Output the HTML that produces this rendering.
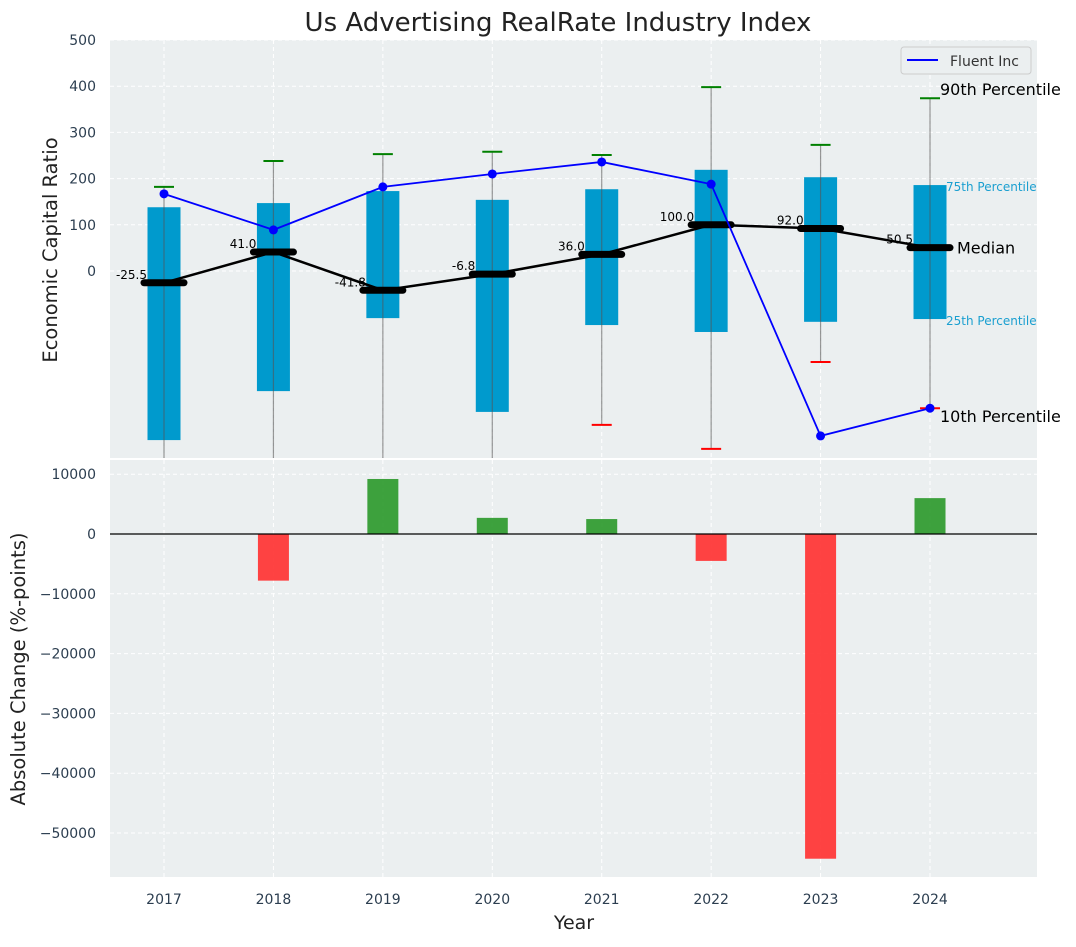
<!DOCTYPE html>
<html><head><meta charset="utf-8"><style>body{margin:0;background:#fff}svg{font-family:"DejaVu Sans","Liberation Sans",sans-serif}</style></head>
<body>
<svg id="c" width="1076" height="942" xmlns="http://www.w3.org/2000/svg"></svg>
<script>
const years=[2017,2018,2019,2020,2021,2022,2023,2024];
const p25=[-366,-260,-102,-305,-117,-132,-110,-104];
const p75=[138,147,173,154,177,219,203,186];
const p90=[182,238,253,258,251,398,273,374];
const p10=[-470,-470,-470,-470,-333,-385,-197,-297];
const median=[-25.5,41,-41.8,-6.8,36,100,92,50.5];
const fluent=[167,89,182,210,236,188,-357,-297];
const change=[0,-7800,9200,2700,2500,-4500,-54300,6000];
const topTicks=[0,100,200,300,400,500];
const botTicks=[10000,0,-10000,-20000,-30000,-40000,-50000];
const NS="http://www.w3.org/2000/svg",svg=document.getElementById('c');
function el(t,a,p){const e=document.createElementNS(NS,t);for(const k in a)e.setAttribute(k,a[k]);(p||svg).appendChild(e);return e;}
const fmt=v=>String(v).replace('-','\u2212');
const L=110,R=1037;
const x=v=>164+(v-2017)*109.43;
const yT=v=>271-v*0.462;
const yB=v=>534-v*0.00598;
let e=el('rect',{x:L,y:40,width:R-L,height:418,fill:'#ebeff0'});

e=el('rect',{x:L,y:460,width:R-L,height:417,fill:'#ebeff0'});

const clipT=el('clipPath',{id:'ct'});el('rect',{x:L,y:40,width:R-L,height:418},clipT);
const gT=el('g',{'clip-path':'url(#ct)'});
topTicks.forEach(v=>{el('line',{x1:L,x2:R,y1:yT(v),y2:yT(v),stroke:'#fff','stroke-dasharray':'4,3','stroke-width':1},gT);});
years.forEach(yr=>{el('line',{x1:x(yr),x2:x(yr),y1:40,y2:458,stroke:'#fff','stroke-dasharray':'4,3'},gT);el('line',{x1:x(yr),x2:x(yr),y1:460,y2:877,stroke:'#fff','stroke-dasharray':'4,3'});});
botTicks.forEach(v=>el('line',{x1:L,x2:R,y1:yB(v),y2:yB(v),stroke:'#fff','stroke-dasharray':'4,3'}));
years.forEach((yr,i)=>{
 const b=el('rect',{x:x(yr)-16.5,y:yT(p75[i]),width:33,height:yT(p25[i])-yT(p75[i]),fill:'#009acd'},gT);
 
 const w=el('line',{x1:x(yr),x2:x(yr),y1:yT(p10[i]),y2:yT(p90[i]),stroke:'#555','stroke-opacity':0.6,'stroke-width':1.2},gT);
 
 el('line',{x1:x(yr)-10,x2:x(yr)+10,y1:yT(p90[i]),y2:yT(p90[i]),stroke:'green','stroke-width':2},gT);
 el('line',{x1:x(yr)-10,x2:x(yr)+10,y1:yT(p10[i]),y2:yT(p10[i]),stroke:'red','stroke-width':2},gT);
});
el('polyline',{points:years.map((yr,i)=>x(yr)+','+yT(median[i])).join(' '),fill:'none',stroke:'#000','stroke-width':2.5},gT);
years.forEach((yr,i)=>{
 const m=el('line',{x1:x(yr)-20,x2:x(yr)+20,y1:yT(median[i]),y2:yT(median[i]),stroke:'#000','stroke-width':7,'stroke-linecap':'round'},gT);
 
 const t=el('text',{x:x(yr)-17,y:yT(median[i])-4,'text-anchor':'end','font-size':12,fill:'#000'},gT);t.textContent=median[i].toFixed(1);
});
const fl=el('polyline',{points:years.map((yr,i)=>x(yr)+','+yT(fluent[i])).join(' '),fill:'none',stroke:'#0000ff','stroke-width':1.8},gT);

years.forEach((yr,i)=>el('circle',{cx:x(yr),cy:yT(fluent[i]),r:4.5,fill:'#0000ff'},gT));
const last=years.length-1,lx=x(years[last]);
[[lx+10,yT(p90[last])-3,'90th Percentile',16,'#000'],[lx+16,yT(p75[last])+6,'75th Percentile',12,'#1a9fd0'],[lx+27,yT(median[last])+6,'Median',16,'#000'],[lx+16,yT(p25[last])+6,'25th Percentile',12,'#1a9fd0'],[lx+10,yT(p10[last])+14,'10th Percentile',16,'#000']].forEach(a=>{const t=el('text',{x:a[0],y:a[1],'font-size':a[3],fill:a[4]});t.textContent=a[2];});
const lg=el('g',{});
el('rect',{x:901,y:47,width:130,height:27,rx:3,fill:'#ebeff0',stroke:'#ccc'},lg);
el('line',{x1:907,x2:938,y1:60,y2:60,stroke:'#0000ff','stroke-width':2},lg);
let t=el('text',{x:950,y:66,'font-size':14,fill:'#333'},lg);t.textContent='Fluent Inc';
topTicks.forEach(v=>{const t=el('text',{x:96,y:yT(v)+5,'text-anchor':'end','font-size':14,fill:'#2c3e50'});t.textContent=fmt(v);});
years.forEach((yr,i)=>{const v=change[i];const b=el('rect',{x:x(yr)-15.5,y:Math.min(yB(v),yB(0)),width:31,height:Math.abs(yB(v)-yB(0)),fill:v>=0?'#2e9a2e':'#ff3333','fill-opacity':0.92});
 });
el('line',{x1:L,x2:R,y1:yB(0),y2:yB(0),stroke:'#000','stroke-width':1.3});
botTicks.forEach(v=>{const t=el('text',{x:96,y:yB(v)+5,'text-anchor':'end','font-size':14,fill:'#2c3e50'});t.textContent=fmt(v);});
years.forEach(yr=>{const t=el('text',{x:x(yr),y:904,'text-anchor':'middle','font-size':14,fill:'#2c3e50'});t.textContent=yr;});
t=el('text',{x:558,y:31,'text-anchor':'middle','font-size':26,fill:'#222'});t.textContent='Us Advertising RealRate Industry Index';
t=el('text',{x:574,y:929,'text-anchor':'middle','font-size':19,fill:'#222'});t.textContent='Year';
t=el('text',{x:0,y:0,'text-anchor':'middle','font-size':19.5,fill:'#222',transform:'translate(57,250) rotate(-90)'});t.textContent='Economic Capital Ratio';
t=el('text',{x:0,y:0,'text-anchor':'middle','font-size':19.5,fill:'#222',transform:'translate(25,669) rotate(-90)'});t.textContent='Absolute Change (%-points)';
</script>
</body></html>
